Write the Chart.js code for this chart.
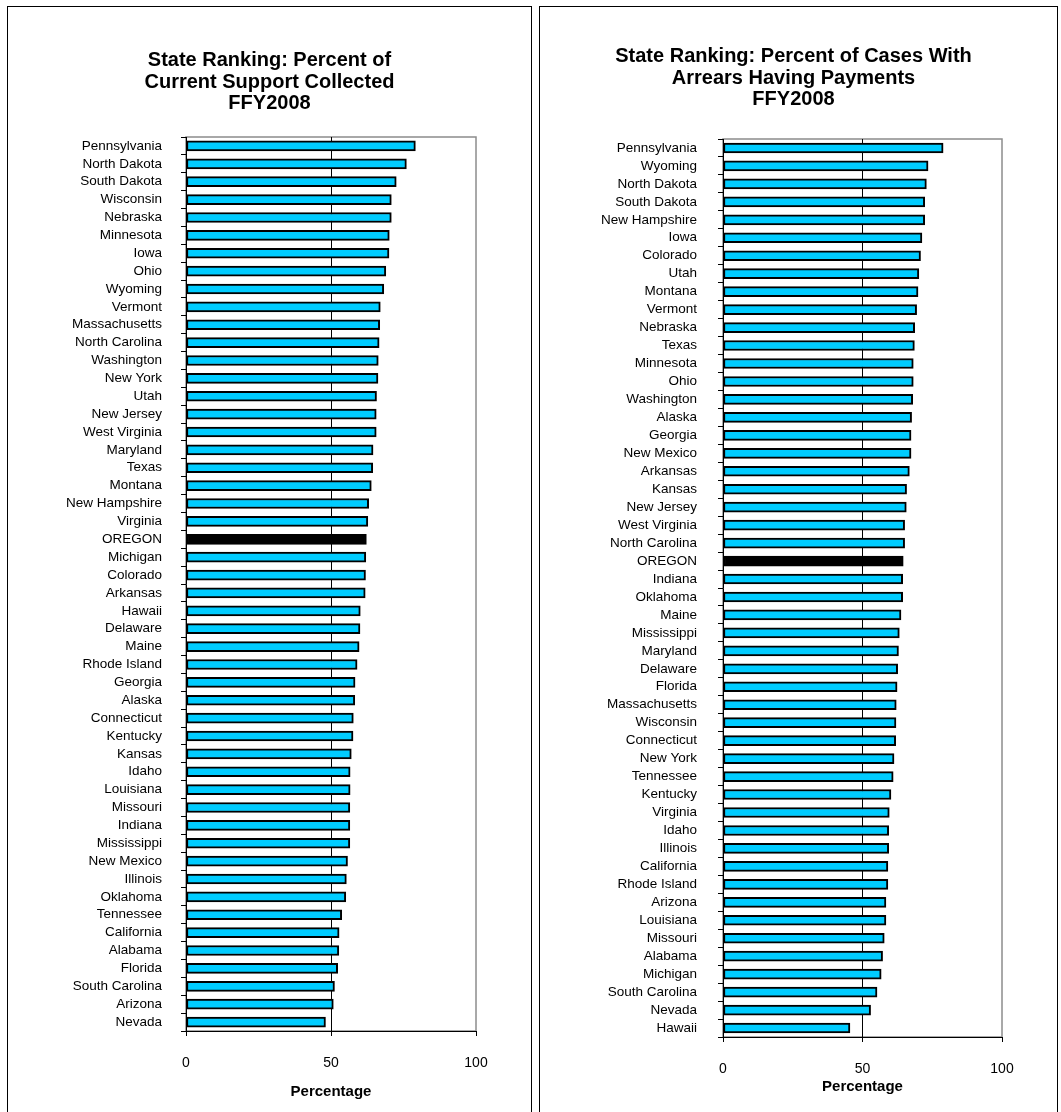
<!DOCTYPE html>
<html>
<head>
<meta charset="utf-8">
<title>State Ranking FFY2008</title>
<script src="https://cdn.jsdelivr.net/npm/chart.js@4.4.1/dist/chart.umd.min.js"></script>
<style>
    body {
        margin: 0;
        background: #fff;
        width: 1061px;
        height: 1112px;
        overflow: hidden;
        position: relative;
    }
    .panel {
        position: absolute;
        top: 6px;
        height: 1130px;
        border: 1px solid #000;
        box-sizing: border-box;
        background: #fff;
    }
    .panel canvas {
        position: absolute;
        left: 0;
        top: 0;
    }
    .panel h2 {
        position: absolute;
        left: 0;
        right: 0;
        margin: 0;
        text-align: center;
        font-family: 'Liberation Sans', Arial, sans-serif;
        font-size: 20px;
        font-weight: bold;
        line-height: 21.5px;
        color: #000;
    }
</style>
</head>
<body>

<div class="panel" style="left: 7px; width: 525px;">
    <canvas id="currentSupportChart" width="523" height="1105"></canvas>
    <h2 style="top: 42px;">State Ranking: Percent of<br>Current Support Collected<br>FFY2008</h2>
</div>
<div class="panel" style="left: 539px; width: 519px;">
    <canvas id="arrearsChart" width="517" height="1105"></canvas>
    <h2 style="top: 38px; left: -10px;">State Ranking: Percent of Cases With<br>Arrears Having Payments<br>FFY2008</h2>
</div>

<script>
// Percent of current support collected, FFY2008
var supportStates = [
    "Pennsylvania", "North Dakota", "South Dakota", "Wisconsin", "Nebraska",
    "Minnesota", "Iowa", "Ohio", "Wyoming", "Vermont",
    "Massachusetts", "North Carolina", "Washington", "New York", "Utah",
    "New Jersey", "West Virginia", "Maryland", "Texas", "Montana",
    "New Hampshire", "Virginia", "OREGON", "Michigan", "Colorado",
    "Arkansas", "Hawaii", "Delaware", "Maine", "Rhode Island",
    "Georgia", "Alaska", "Connecticut", "Kentucky", "Kansas",
    "Idaho", "Louisiana", "Missouri", "Indiana", "Mississippi",
    "New Mexico", "Illinois", "Oklahoma", "Tennessee", "California",
    "Alabama", "Florida", "South Carolina", "Arizona", "Nevada"
];
var supportValues = [
    79.1, 76.0, 72.5, 70.8, 70.8,
    70.1, 70.0, 68.9, 68.2, 67.0,
    66.8, 66.6, 66.3, 66.2, 65.7,
    65.6, 65.6, 64.5, 64.4, 63.9,
    63.0, 62.7, 62.2, 62.0, 61.9,
    61.8, 60.1, 60.0, 59.7, 59.0,
    58.3, 58.2, 57.7, 57.6, 57.0,
    56.6, 56.6, 56.5, 56.5, 56.5,
    55.7, 55.3, 55.1, 53.7, 52.8,
    52.7, 52.3, 51.2, 50.8, 48.1
];

// Percent of cases with arrears having payments, FFY2008
var arrearsStates = [
    "Pennsylvania", "Wyoming", "North Dakota", "South Dakota", "New Hampshire",
    "Iowa", "Colorado", "Utah", "Montana", "Vermont",
    "Nebraska", "Texas", "Minnesota", "Ohio", "Washington",
    "Alaska", "Georgia", "New Mexico", "Arkansas", "Kansas",
    "New Jersey", "West Virginia", "North Carolina", "OREGON", "Indiana",
    "Oklahoma", "Maine", "Mississippi", "Maryland", "Delaware",
    "Florida", "Massachusetts", "Wisconsin", "Connecticut", "New York",
    "Tennessee", "Kentucky", "Virginia", "Idaho", "Illinois",
    "California", "Rhode Island", "Arizona", "Louisiana", "Missouri",
    "Alabama", "Michigan", "South Carolina", "Nevada", "Hawaii"
];
var arrearsValues = [
    78.9, 73.5, 72.9, 72.3, 72.3,
    71.3, 70.8, 70.2, 69.9, 69.4,
    68.7, 68.6, 68.2, 68.2, 68.0,
    67.6, 67.4, 67.4, 66.8, 65.8,
    65.7, 65.1, 65.1, 64.6, 64.4,
    64.4, 63.8, 63.2, 62.9, 62.6,
    62.4, 62.1, 62.0, 61.9, 61.3,
    61.0, 60.2, 59.6, 59.4, 59.4,
    59.1, 59.1, 58.4, 58.4, 57.8,
    57.2, 56.7, 55.2, 52.9, 45.5
];

var xTicks = [0, 50, 100];
var highlightState = "OREGON";

var fontFamily = "'Liberation Sans', Arial, sans-serif";

// gray frame round the plot area, drawn first so the axes sit on top
var plotFrame = {
    id: 'plotFrame',
    beforeDraw: function(chart) {
        var a = chart.chartArea;
        var ctx = chart.ctx;
        ctx.save();
        ctx.strokeStyle = '#8c8c8c';
        ctx.lineWidth = 1.5;
        ctx.strokeRect(a.left, a.top, a.right - a.left, a.bottom - a.top);
        ctx.restore();
    }
};

function makeRankingChart(id, states, values, box) {
    var fills = states.map(function(s) {
        return s === highlightState ? '#000000' : '#00ccff';
    });

    return new Chart(id, {
        type: 'bar',
        data: {
            labels: states,
            datasets: [{
                data: values,
                backgroundColor: fills,
                borderColor: '#000000',
                borderWidth: 2,
                borderSkipped: false,
                barThickness: 10
            }]
        },
        plugins: [plotFrame],
        options: {
            indexAxis: 'y',
            responsive: false,
            animation: false,
            layout: {
                padding: { top: box.padTop, right: box.padRight, bottom: 0, left: 0 }
            },
            plugins: {
                legend: { display: false },
                tooltip: { enabled: false },
                title: { display: false }
            },
            scales: {
                x: {
                    min: 0,
                    max: 100,
                    afterBuildTicks: function(scale) {
                        scale.ticks = xTicks.map(function(v) { return { value: v }; });
                    },
                    afterFit: function(scale) {
                        scale.height = box.xHeight;
                    },
                    grid: {
                        color: function(c) {
                            return c.tick && c.tick.value === 50 ? '#000' : 'rgba(0,0,0,0)';
                        },
                        lineWidth: 1,
                        drawTicks: true,
                        tickLength: 5,
                        tickColor: '#000'
                    },
                    border: { display: true, color: '#000', width: 1 },
                    ticks: {
                        color: '#000',
                        padding: box.xTickPad,
                        maxRotation: 0,
                        font: { family: fontFamily, size: 14 }
                    },
                    title: {
                        display: true,
                        text: 'Percentage',
                        color: '#000',
                        font: { family: fontFamily, size: 15, weight: 'bold', lineHeight: 1.2 },
                        padding: { top: 0, bottom: box.xTitlePad }
                    }
                },
                y: {
                    afterFit: function(scale) {
                        scale.width = box.yWidth;
                    },
                    grid: {
                        offset: true,
                        drawOnChartArea: false,
                        drawTicks: true,
                        tickLength: 5,
                        tickColor: '#000'
                    },
                    border: { display: true, color: '#000', width: 1 },
                    ticks: {
                        color: '#000',
                        padding: box.yTickPad,
                        autoSkip: false,
                        font: { family: fontFamily, size: 13.5 }
                    }
                }
            }
        }
    });
}

makeRankingChart('currentSupportChart', supportStates, supportValues,
    { padTop: 130, padRight: 55, xHeight: 81, xTickPad: 19, xTitlePad: 11, yWidth: 178, yTickPad: 19 });

makeRankingChart('arrearsChart', arrearsStates, arrearsValues,
    { padTop: 132, padRight: 55, xHeight: 75, xTickPad: 19, xTitlePad: 16, yWidth: 183, yTickPad: 21 });
</script>
</body>
</html>
